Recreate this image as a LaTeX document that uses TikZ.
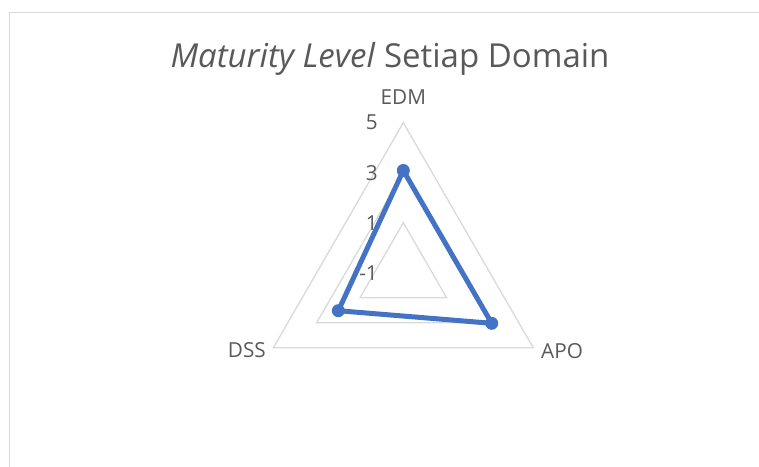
\documentclass[tikz,border=0pt]{standalone}
\usepackage{fontspec}
\setmainfont{Open Sans}[Ligatures=NoCommon]
\usetikzlibrary{calc}
\definecolor{gridgray}{HTML}{D9D9D9}
\definecolor{txtgray}{HTML}{595959}
\definecolor{serblue}{HTML}{4472C4}
\tikzset{
  frameline/.style={draw=gridgray, line width=1.2pt},
  gridline/.style={draw=gridgray, line width=1.3pt},
  serline/.style={draw=serblue, line width=5pt, line join=round},
  dotmark/.style={circle, fill=serblue, inner sep=0pt, minimum size=13pt},
  lbl/.style={text=txtgray, font=\fontsize{20.7}{24}\selectfont, inner sep=0pt},
  axlbl/.style={text=txtgray, font=\fontsize{20.7}{24}\selectfont, inner sep=0pt, anchor=east},
  ttl/.style={text=txtgray, font=\fontsize{33}{38}\selectfont, inner sep=0pt, anchor=base}
}
\begin{document}
\begin{tikzpicture}[x=1pt,y=-1pt]
\useasboundingbox (0,0) rectangle (759,466);
% chart frame
\coordinate (fb) at (9.5,470);
\coordinate (ftr) at (763,12.7);
\draw[frameline] (fb) |- (ftr);
% centre
\coordinate (C) at (403.3,272.7);
% grid rings (values 1, 3, 5 ; centre = -1)
\foreach \R in {50,100,150}{
  \draw[gridline] ($(C)+(0,-\R)$) -- ($(C)+({0.866*\R},{0.5*\R})$) -- ($(C)+({-0.866*\R},{0.5*\R})$) -- cycle;
}
% title
\node[ttl] (title) at (390,67.5) {\itshape Maturity Level\/\upshape{} Setiap Domain};
% category labels
\node[lbl, anchor=base] (lEDM) at (403.3,104) {EDM};
\node[lbl, anchor=base east] (lDSS) at (266,357.5) {DSS};
\node[lbl, anchor=base west] (lAPO) at (541,358) {APO};
% axis labels
\node[axlbl] (a5) at (378,122.7) {5};
\node[axlbl] (a3) at (378,172.7) {3};
\node[axlbl] (a1) at (378,222.7) {1};
\node[axlbl] (am1) at (378,272.7) {-1};
% data series
\coordinate (cEDM) at (403.3,170.5);
\coordinate (cAPO) at (491.7,323.3);
\coordinate (cDSS) at (338.3,310.7);
\draw[serline] (cEDM) -- (cAPO) -- (cDSS) -- cycle;
\node[dotmark] (pEDM) at (cEDM) {};
\node[dotmark] (pAPO) at (cAPO) {};
\node[dotmark] (pDSS) at (cDSS) {};
\end{tikzpicture}
\end{document}
